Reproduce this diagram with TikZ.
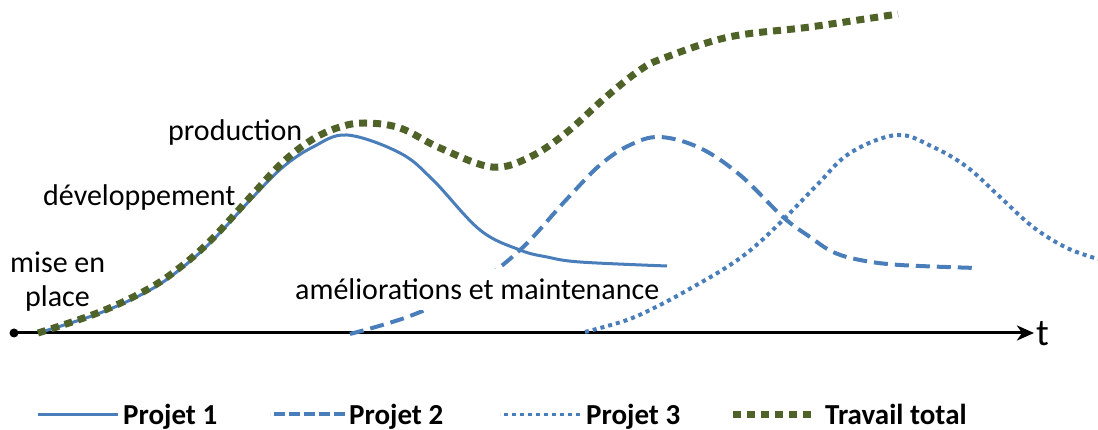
\documentclass[tikz,border=0pt]{standalone}
\usepackage{fontspec}
\setmainfont{Carlito}
\usetikzlibrary{arrows.meta}
\definecolor{projblue}{HTML}{4A7EBB}
\definecolor{totgreen}{HTML}{4F6228}
\tikzset{
lbl/.style={font=\fontsize{30}{36}\selectfont,inner sep=0,anchor=base west},
leg/.style={font=\fontsize{29}{35}\selectfont\bfseries,inner sep=0,anchor=base west},
proj1/.style={projblue,line width=3pt},
proj2/.style={projblue,line width=4pt,dash pattern=on 14pt off 7pt},
proj3/.style={projblue,line width=4pt,dash pattern=on 4pt off 4pt},
total/.style={totgreen,line width=7pt,dash pattern=on 8pt off 6pt}
}
\begin{document}
\begin{tikzpicture}[x=1pt,y=-1pt]
\useasboundingbox (0,0) rectangle (1098,430);
% axe du temps
\coordinate (o) at (14,333); \coordinate (tend) at (1034,333);
\fill (o) circle (4.5);
\draw[line width=3pt,-{Stealth[length=17pt,width=15pt,inset=5pt]}] (o) -- (tend);
\node[font=\fontsize{38}{44}\selectfont,inner sep=0,anchor=base west] (t) at (1036,345) {t};
% courbes
\draw[proj1] plot[smooth,tension=0.6] coordinates {(38,333) (100,313) (150,290) (183,267) (213,240) (253,197) (283,167) (313,147) (347,135) (400,153) (433,180) (480,230) (520,250) (547,257) (580,262) (667,266)};
\draw[proj2] plot[smooth,tension=0.6] coordinates {(350,334) (410,316) (470,288) (520,250) (566,200) (600,165) (630,145) (660,137) (700,148) (740,175) (783,217) (810,237) (833,252) (860,260) (900,265) (977,268)};
\node[lbl,fill=white,inner xsep=2pt,inner ysep=10pt] (amel) at (293,300) {améliorations et maintenance};
\draw[proj3] plot[smooth,tension=0.6] coordinates {(585,332) (627,320) (660,305) (693,287) (727,267) (753,248) (783,220) (817,185) (850,153) (897,135) (933,147) (967,167) (1000,197) (1033,227) (1067,248) (1098,259)};
\draw[total] plot[smooth,tension=0.6] coordinates {(38,333) (100,312) (150,288) (183,265) (213,238) (253,194) (283,162) (313,139) (340,127) (365,123) (400,128) (440,148) (492,167) (530,157) (566,133) (606,97) (640,70) (664,58) (729,37) (810,27) (898,14)};
% phases
\node[lbl] (prod) at (168,141) {production};
\node[lbl] (dev) at (43,206) {développement};
\node[lbl] (mise) at (10,273) {mise en};
\node[lbl] (place) at (25,307) {place};
% legende
\node[leg] (l1) at (123,424) {Projet 1};
\draw[proj1] ([xshift=-5pt,yshift=10pt]l1.base west) -- ++(-80,0);
\node[leg] (l2) at (349,424) {Projet 2};
\draw[proj2,dash pattern=on 11pt off 4pt] ([xshift=-4pt,yshift=10pt]l2.base west) -- ++(-75,0);
\node[leg] (l3) at (586,424) {Projet 3};
\draw[proj3,line width=3pt] ([xshift=-6pt,yshift=10pt]l3.base west) -- ++(-80,0);
\node[leg] (l4) at (825,424) {Travail total};
\draw[total] ([xshift=-14pt,yshift=10pt]l4.base west) -- ++(-78,0);
\end{tikzpicture}
\end{document}
